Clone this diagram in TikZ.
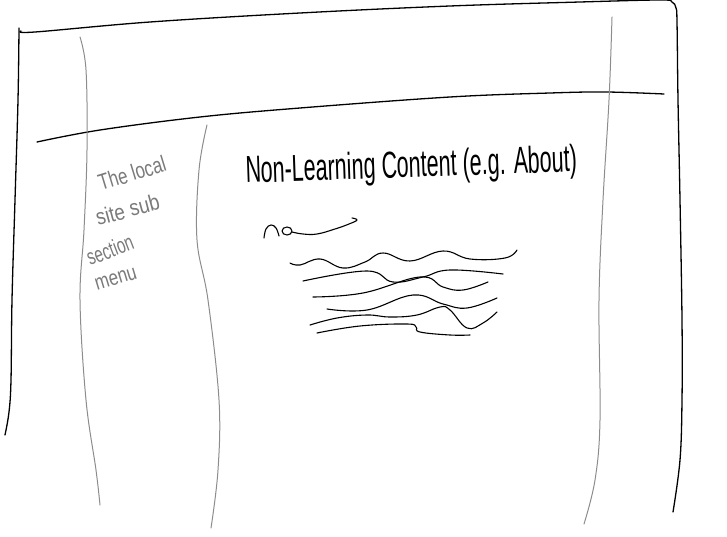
\documentclass[tikz,border=0pt]{standalone}
\usepackage{fontspec}
\setmainfont{Liberation Sans}
\definecolor{pencil}{HTML}{8C8C8C}
\definecolor{pentext}{HTML}{7A7A7A}
\begin{document}
\begin{tikzpicture}[x=1pt,y=-1pt,
  ink/.style={line width=1.3pt, black, line cap=round, line join=round},
  soft/.style={line width=1pt, pencil, line cap=round},
  scrib/.style={line width=1.1pt, black, line cap=round, line join=round},
  sidetxt/.style={anchor=base west, inner sep=0pt, text=pentext, font=\fontsize{18}{18}\selectfont},
  titletxt/.style={anchor=base west, inner sep=0pt, font=\fontsize{21.5}{22}\selectfont}]
\useasboundingbox (0,0) rectangle (727,537);
% outer frame
\draw[ink] plot[smooth, tension=0.6] coordinates {(19,28) (18,100) (15,200) (12,300) (11,380) (9,412) (5,435)};
\draw[ink] plot[smooth, tension=0.6] coordinates {(21,31) (35,32) (150,22) (300,13) (450,6) (580,2) (660,0) (672,2) (676,8) (677,22) (678,100) (680,200) (682,320) (682,400) (680,460) (673,512)};
% header separator
\draw[ink] plot[smooth, tension=0.6] coordinates {(37,142) (100,130) (200,117) (300,108) (450,97) (550,93) (606,92) (664,94)};
% column dividers
\draw[soft] plot[smooth, tension=0.6] coordinates {(80,37) (86,70) (87,150) (84,230) (80,300) (86,400) (96,470) (100,505)};
\draw[soft] plot[smooth, tension=0.6] coordinates {(207,125) (199,170) (197,240) (208,300) (219,400) (218,470) (211,528)};
\draw[soft] plot[smooth, tension=0.6] coordinates {(612,17) (609,100) (603,200) (599,300) (600,420) (595,480) (584,524)};
% sidebar text
\node[sidetxt, rotate=17] (s1) at (101,191) {\scalebox{0.95}[1.25]{The local}};
\node[sidetxt, rotate=15] (s2) at (98,226) {\scalebox{1.05}[1.25]{site sub}};
\node[sidetxt, rotate=21] (s3) at (90,266) {\scalebox{0.85}[1.25]{section}};
\node[sidetxt, rotate=17] (s4) at (97,291) {\scalebox{0.95}[1.2]{menu}};
% title
\node[titletxt, rotate=2] (title) at (246,183) {\scalebox{1}[1.75]{Non-Learning Content (e.g. About)}};
% scribble word
\draw[scrib] plot[smooth, tension=0.7] coordinates {(264,238) (266,229) (271,225) (276,228) (279,236)};
\draw[scrib] (287,231) ellipse (5 and 4);
\draw[scrib] plot[smooth, tension=0.7] coordinates {(292,232) (303,234) (317,234) (335,229) (349,224) (357,220) (352,218)};
% placeholder text waves
\draw[scrib] plot[smooth, tension=0.7] coordinates {(290,263) (300,265) (320,259) (343,268) (365,262) (383,253) (410,261) (443,251) (470,259) (505,258) (517,250)};
\draw[scrib] plot[smooth, tension=0.7] coordinates {(303,281) (367,271) (393,282) (423,277) (450,270) (503,274)};
\draw[scrib] plot[smooth, tension=0.7] coordinates {(313,297) (363,293) (420,277) (443,287) (463,290) (488,282)};
\draw[scrib] plot[smooth, tension=0.7] coordinates {(327,309) (367,310) (413,295) (443,304) (467,308) (497,298)};
\draw[scrib] plot[smooth, tension=0.7] coordinates {(310,325) (337,318) (367,315) (390,317) (417,315) (440,307) (450,310) (467,328) (483,323) (497,312)};
\draw[scrib] plot[smooth, tension=0.7] coordinates {(317,333) (360,326) (407,324) (416,327) (420,332) (450,335) (470,335)};
\end{tikzpicture}
\end{document}
